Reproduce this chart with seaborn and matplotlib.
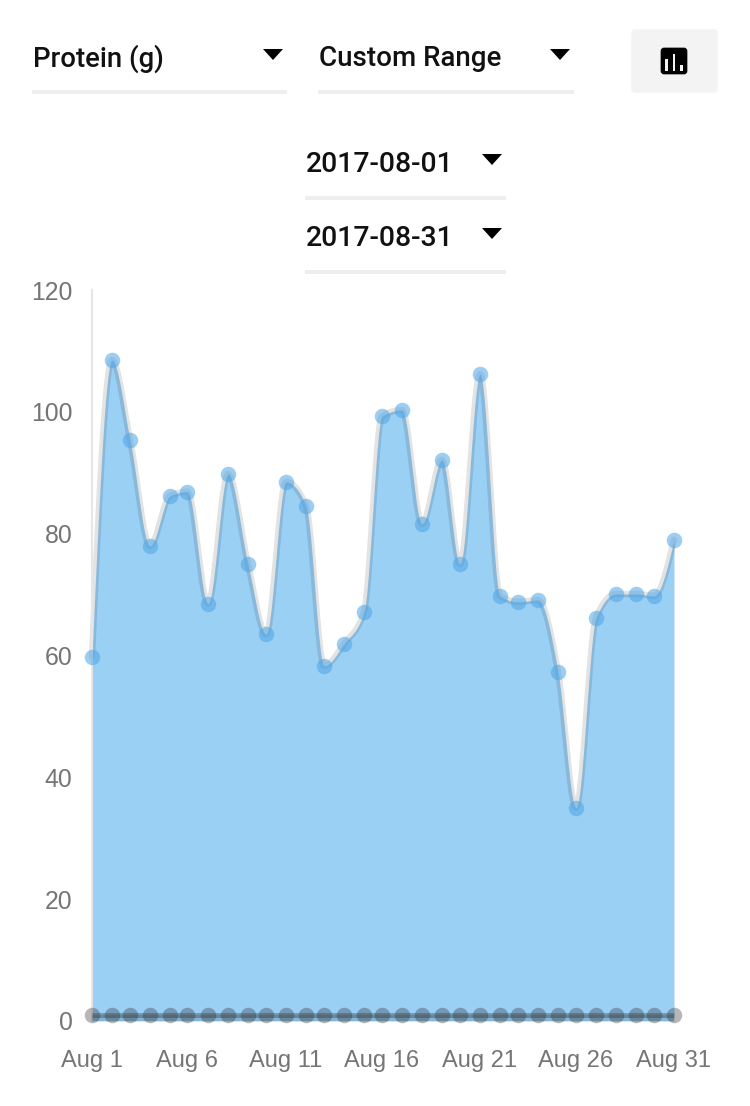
import numpy as np
import pandas as pd
import matplotlib
matplotlib.use('Agg')
import matplotlib.pyplot as plt
from matplotlib.patches import FancyBboxPatch, Polygon, Rectangle
import seaborn as sns

# valores (os dias nao ficam igualmente espacados no original)
dias = [1.0, 2.03, 2.96, 3.99, 5.02, 5.92, 6.98, 8.01, 9.04, 9.97, 11.0,
        12.03, 12.96, 13.99, 15.02, 15.95, 16.98, 18.01, 19.04, 19.97, 21.0, 22.03,
        22.96, 23.99, 25.02, 25.95, 26.98, 28.01, 29.04, 29.97, 31.0]
proteina = [59.8, 108.5, 95.4, 78.0, 86.2, 86.9, 68.5, 89.8, 75.0, 63.5, 88.5,
            84.6, 58.3, 61.9, 67.2, 99.3, 100.3, 81.6, 92.1, 75.0, 106.2, 69.8,
            68.8, 69.1, 57.3, 35.0, 66.2, 70.1, 70.1, 69.8, 79.0]
base = [1] * 31
dias_ticks = [1.0, 5.92, 11.0, 15.95, 21.0, 25.95, 31.0]
labels_x = ['Aug 1', 'Aug 6', 'Aug 11', 'Aug 16', 'Aug 21', 'Aug 26', 'Aug 31']
ticks_y = [0, 20, 40, 60, 80, 100, 120]

W, H = 750, 1106


# curva suave monotona entre os pontos (so para desenhar a linha)
def curva_monotona(x, y, n=30):
    x = np.array(x, dtype=float)
    y = np.array(y, dtype=float)
    h = np.diff(x)
    s = np.diff(y) / h
    m = np.zeros(len(x))
    for i in range(1, len(x) - 1):
        p = (s[i - 1] * h[i] + s[i] * h[i - 1]) / (h[i - 1] + h[i])
        m[i] = (np.sign(s[i - 1]) + np.sign(s[i])) * min(abs(s[i - 1]), abs(s[i]), 0.5 * abs(p))
    m[0] = (3 * s[0] - m[1]) / 2
    m[-1] = (3 * s[-1] - m[-2]) / 2
    xs, ys = [], []
    for i in range(len(x) - 1):
        t = np.linspace(0, 1, n, endpoint=False)
        a = (1 + 2 * t) * (1 - t) ** 2
        b = t * (1 - t) ** 2
        c = t ** 2 * (3 - 2 * t)
        d = t ** 2 * (t - 1)
        xs.append(x[i] + t * h[i])
        ys.append(a * y[i] + b * h[i] * m[i] + c * y[i + 1] + d * h[i] * m[i + 1])
    xs.append(x[-1:])
    ys.append(y[-1:])
    return np.concatenate(xs), np.concatenate(ys)


sns.set_theme(style='white')
plt.rcParams['font.family'] = ['Liberation Sans', 'DejaVu Sans']

fig = plt.figure(figsize=(W / 100, H / 100), dpi=100)
ax = fig.add_axes([92 / W, (H - 1021) / H, 582 / W, 731 / H])

dados = pd.DataFrame({'dia': dias, 'proteina': proteina, 'base': base})
xc, yc = curva_monotona(dias, proteina)
curva = pd.DataFrame({'x': xc, 'y': yc})

ax.fill_between(xc, 0, yc, color='#9bd0f5', linewidth=0, zorder=1)
sns.lineplot(data=curva, x='x', y='y', ax=ax, color='black', alpha=0.11, linewidth=4.6,
             zorder=2, estimator=None, solid_capstyle='round', clip_on=False)
sns.scatterplot(data=dados, x='dia', y='proteina', ax=ax, color='#4da6e6', alpha=0.55, s=125,
                linewidth=0, zorder=3, clip_on=False)

ax.fill_between(dias, 0, base, color='#33526b', alpha=0.22, linewidth=0, zorder=4)
sns.lineplot(data=dados, x='dia', y='base', ax=ax, color='#333333', alpha=0.35, linewidth=3.6,
             zorder=4, estimator=None, solid_capstyle='butt', clip_on=False)
sns.scatterplot(data=dados, x='dia', y='base', ax=ax, color='#333333', alpha=0.35, s=125,
                linewidth=0, zorder=5, clip_on=False)

ax.set_xlim(1, 31)
ax.set_ylim(0, 120)
ax.set_xticks(dias_ticks)
ax.set_xticklabels(labels_x)
ax.set_yticks(ticks_y)
ax.set_xlabel('')
ax.set_ylabel('')
ax.tick_params(axis='both', length=0, labelsize=17, labelcolor='#757575')
ax.tick_params(axis='x', pad=21)
ax.tick_params(axis='y', pad=14, labelsize=17.8)
ax.grid(False)
for lado in ['top', 'right', 'bottom']:
    ax.spines[lado].set_visible(False)
ax.spines['left'].set_color('#e6e6e6')
ax.spines['left'].set_linewidth(1.5)


# controles da parte de cima, em pixels da imagem
tela = fig.add_axes([0, 0, 1, 1], zorder=10)
tela.set_xlim(0, W)
tela.set_ylim(H, 0)
tela.axis('off')


def seletor(texto, x0, x1, y_txt, y_lin, x_seta, y_seta, tam=20):
    tela.text(x0 + 1, y_txt, texto, fontsize=tam, family='Roboto', fontweight='medium',
              color='#111111', va='center', ha='left')
    tela.add_patch(Rectangle((x0, y_lin), x1 - x0, 4, color='#eeeeee', linewidth=0))
    tela.add_patch(Polygon([(x_seta - 10, y_seta - 5), (x_seta + 10, y_seta - 5), (x_seta, y_seta + 6)],
                           color='black', linewidth=0))


seletor('Protein (g)', 32, 287, 59, 90, 273, 54, 19.8)
seletor('Custom Range', 318, 574, 59, 90, 560, 54)
seletor('2017-08-01', 305, 506, 165, 196, 492, 159, 20.4)
seletor('2017-08-31', 305, 506, 239, 270, 492, 233, 20.4)

# botao com o icone de barras
tela.add_patch(FancyBboxPatch((632, 30), 85, 62, boxstyle='round,pad=0,rounding_size=3',
                              facecolor='#f3f3f3', edgecolor='#f3f3f3', linewidth=1))
tela.add_patch(FancyBboxPatch((661, 48), 26, 26, boxstyle='round,pad=0,rounding_size=3',
                              facecolor='black', edgecolor='black', linewidth=0.5))
for xb, yb, hb in [(665, 59, 12), (672.5, 54, 17), (680, 65, 6)]:
    tela.add_patch(Rectangle((xb, yb), 2.5, hb, color='#f3f3f3', linewidth=0))

fig.savefig('out.png', dpi=100)
